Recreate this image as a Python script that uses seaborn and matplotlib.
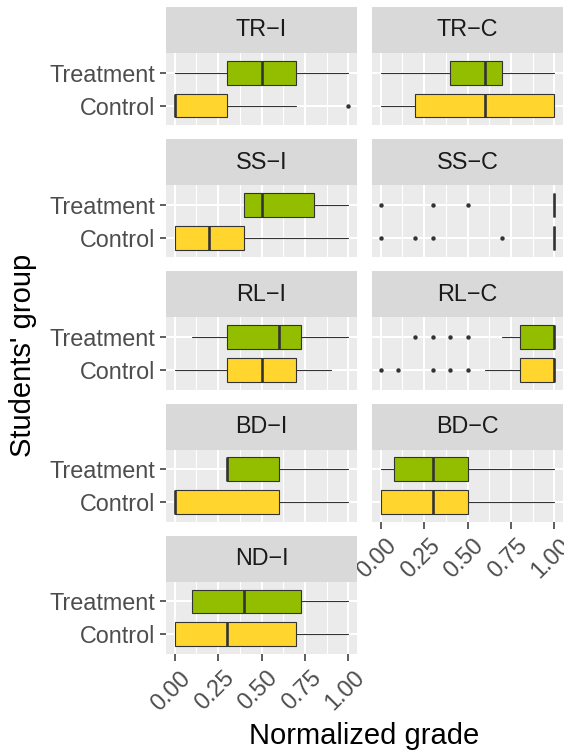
import matplotlib
matplotlib.use("Agg")
import matplotlib.pyplot as plt
from matplotlib.patches import Rectangle
from matplotlib.transforms import ScaledTranslation
import pandas as pd
import seaborn as sns

# ---- data -----------------------------------------------------------------
tasks = ["TR−I", "TR−C", "SS−I", "SS−C", "RL−I", "RL−C", "BD−I", "BD−C", "ND−I"]
groups = ["Treatment", "Control"]

# box summaries per task: lower whisker, Q1, median, Q3, upper whisker, outliers
treat_lo = [0.0, 0.0, 0.4, 1.0, 0.1, 0.7, 0.3, 0.0, 0.1]
treat_q1 = [0.3, 0.4, 0.4, 1.0, 0.3, 0.8, 0.3, 0.075, 0.1]
treat_med = [0.5, 0.6, 0.5, 1.0, 0.6, 1.0, 0.3, 0.3, 0.4]
treat_q3 = [0.7, 0.7, 0.8, 1.0, 0.725, 1.0, 0.6, 0.5, 0.725]
treat_hi = [1.0, 1.0, 1.0, 1.0, 1.0, 1.0, 1.0, 1.0, 1.0]
treat_out = [[], [], [], [0.0, 0.3, 0.5], [], [0.2, 0.3, 0.4, 0.5], [], [], []]

ctrl_lo = [0.0, 0.0, 0.0, 1.0, 0.0, 0.6, 0.0, 0.0, 0.0]
ctrl_q1 = [0.0, 0.2, 0.0, 1.0, 0.3, 0.8, 0.0, 0.0, 0.0]
ctrl_med = [0.0, 0.6, 0.2, 1.0, 0.5, 1.0, 0.0, 0.3, 0.3]
ctrl_q3 = [0.3, 1.0, 0.4, 1.0, 0.7, 1.0, 0.6, 0.5, 0.7]
ctrl_hi = [0.7, 1.0, 1.0, 1.0, 0.9, 1.0, 1.0, 1.0, 1.0]
ctrl_out = [[1.0], [], [], [0.0, 0.2, 0.3, 0.7], [], [0.0, 0.1, 0.3, 0.4, 0.5], [], [], []]

x_ticks = [0.0, 0.25, 0.5, 0.75, 1.0]
x_tick_labels = ["0.00", "0.25", "0.50", "0.75", "1.00"]

# ---- table --------------------------------------------------------------
rows = []
for i, t in enumerate(tasks):
    rows.append(dict(task=t, group="Treatment", ypos=2, lo=treat_lo[i], q1=treat_q1[i],
                     med=treat_med[i], q3=treat_q3[i], hi=treat_hi[i], out=treat_out[i]))
    rows.append(dict(task=t, group="Control", ypos=1, lo=ctrl_lo[i], q1=ctrl_q1[i],
                     med=ctrl_med[i], q3=ctrl_q3[i], hi=ctrl_hi[i], out=ctrl_out[i]))
df = pd.DataFrame(rows)

fills = {"Treatment": "#93BE00", "Control": "#FFD52E"}
INK = "#333333"

# ---- style --------------------------------------------------------------
sns.set_theme(style="darkgrid", rc={
    "axes.facecolor": "#EBEBEB",
    "grid.color": "white",
    "grid.linewidth": 1.5,
})
plt.rcParams["font.family"] = ["Liberation Sans", "DejaVu Sans"]

FS = 16.8


def draw_boxes(data, **kws):
    ax = plt.gca()
    for _, r in data.iterrows():
        stats = [dict(whislo=r.lo, q1=r.q1, med=r.med, q3=r.q3, whishi=r.hi,
                      fliers=list(r.out))]
        ax.bxp(stats, positions=[r.ypos], widths=0.73, orientation="horizontal",
               patch_artist=True, showcaps=False, manage_ticks=False, zorder=3,
               boxprops=dict(facecolor=fills[r.group], edgecolor=INK, linewidth=0.8),
               medianprops=dict(color=INK, linewidth=1.9),
               whiskerprops=dict(color=INK, linewidth=0.8),
               flierprops=dict(marker="o", markersize=3.2, markerfacecolor=INK,
                               markeredgecolor="none"))


g = sns.FacetGrid(df, col="task", col_order=tasks, col_wrap=2,
                  height=1.0, aspect=2.6, sharex=True, sharey=True)
g.map_dataframe(draw_boxes)
g.set_titles(col_template="")
g.set_axis_labels("", "")

fig = g.figure
fig.set_size_inches(5.64, 7.53)
W, H = 564.0, 753.0
fig.subplots_adjust(left=166 / W, right=563 / W, top=1 - 53 / H, bottom=1 - 654 / H,
                    wspace=15 / 191, hspace=60 / 72.2)

strip_h = 46 / 72.2
shift = ScaledTranslation(0.045, 0, fig.dpi_scale_trans)
for idx, (t, ax) in enumerate(zip(tasks, g.axes.flat)):
    ax.set_xlim(-0.05, 1.05)
    ax.set_ylim(0.4, 2.6)
    ax.set_xticks(x_ticks)
    ax.set_xticklabels(x_tick_labels)
    ax.set_xticks([0.125, 0.375, 0.625, 0.875], minor=True)
    ax.set_yticks([1, 2])
    ax.set_yticklabels(["Control", "Treatment"])
    ax.grid(which="major", color="white", linewidth=1.5)
    ax.grid(which="minor", axis="x", color="white", linewidth=0.8)
    ax.set_axisbelow(True)
    for s in ax.spines.values():
        s.set_visible(False)
    ax.tick_params(which="minor", length=0)

    left_col = idx % 2 == 0
    ax.tick_params(axis="y", left=left_col, labelleft=left_col, length=4.3, width=1.1,
                   color=INK, labelsize=FS, labelcolor="#4D4D4D", pad=3.5)
    bottom = t in ("ND−I", "BD−C")
    ax.tick_params(axis="x", bottom=bottom, labelbottom=bottom, length=5, width=1.1,
                   color=INK, labelsize=FS, labelcolor="#4D4D4D", pad=4)
    if bottom:
        for lab in ax.get_xticklabels():
            lab.set_rotation(45)
            lab.set_ha("right")
            lab.set_va("top")
            lab.set_rotation_mode("anchor")
            lab.set_transform(lab.get_transform() + shift)

    # facet strip
    ax.add_patch(Rectangle((0, 1), 1, strip_h, transform=ax.transAxes, clip_on=False,
                           facecolor="#D9D9D9", edgecolor="none", zorder=1))
    ax.text(0.5, 1 + strip_h / 2, t, transform=ax.transAxes, ha="center", va="center",
            fontsize=FS, color="#1A1A1A")

fig.text(364.5 / W, 1 - 744 / H, "Normalized grade", ha="center", va="baseline",
         fontsize=21, color="black")
fig.text(37 / W, 1 - 355 / H, "Students' group", ha="right", va="center",
         rotation=90, fontsize=21, color="black")

fig.savefig("out.png", dpi=100, facecolor="white")
